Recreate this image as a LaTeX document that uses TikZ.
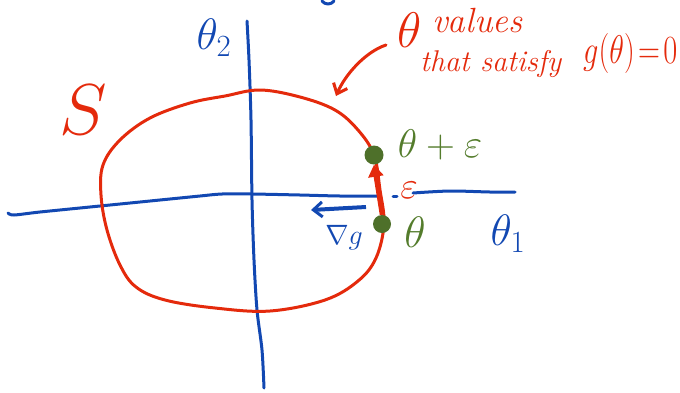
\RequirePackage{fix-cm}
\documentclass[tikz,border=0pt]{standalone}
\usepackage{graphicx}
\usetikzlibrary{arrows.meta}
\definecolor{sred}{RGB}{228,42,12}
\definecolor{sblue}{RGB}{18,72,178}
\definecolor{sgreen}{RGB}{84,124,44}
\definecolor{sdot}{RGB}{78,112,42}
\tikzset{
  axis/.style={draw=sblue, line width=3pt, line cap=round, line join=round},
  curve/.style={draw=sred, line width=3pt, line cap=round, line join=round},
  dotnode/.style={circle, fill=sdot, inner sep=0pt, minimum size=19pt},
  bluetxt/.style={text=sblue, inner sep=0pt},
  redtxt/.style={text=sred, inner sep=0pt},
  greentxt/.style={text=sgreen, inner sep=0pt},
}
\begin{document}
\begin{tikzpicture}[x=1pt,y=-1pt]
\useasboundingbox (0,0) rectangle (680,392);
% stray blue mark at top
\draw[axis] (322,1) .. controls (325,5) and (331,5) .. (334,1);
% vertical axis
\draw[axis] plot[smooth] coordinates {(247,21) (249,60) (251,120) (252,200) (254,260) (257,310) (262,350) (264,388)};
% horizontal axis
\draw[axis] plot[smooth] coordinates {(8,213) (14,215) (40,212) (100,206) (150,201) (200,196) (222,194) (252,194) (300,195) (340,196) (378,196)};
\draw[axis] (393,196) -- (397,196);
\draw[axis] plot[smooth] coordinates {(413,193) (450,191) (490,192) (515,192)};
% constraint set curve
\draw[curve] plot[smooth cycle, tension=0.6] coordinates {(260,90) (300,97) (335,110) (358,130) (374,155) (380,190) (384,224) (376,258) (358,281) (325,300) (270,311) (215,308) (165,300) (136,287) (120,265) (107,230) (101,195) (103,165) (120,140) (150,118) (190,103) (225,96)};
% points
\node[dotnode] (tp) at (374,155) {};
\node[dotnode, minimum size=18pt] (t) at (382,224) {};
% gradient arrow
\coordinate (ga) at (366,207);
\coordinate (gb) at (311,210);
\draw[draw=sblue, line width=4pt, -{Straight Barb[length=9pt,width=15pt,line width=3pt]}] (ga) -- (gb);
% epsilon arrow
\draw[draw=sred, line width=4.5pt, -{Triangle[length=12pt,width=15pt]}] (t.north) -- (tp.south);
% labels
\node[bluetxt, font=\fontsize{44}{44}\selectfont] (th2) at (214,38) {$\theta_{2}$};
\node[bluetxt, font=\fontsize{44}{44}\selectfont] (th1) at (508,234) {$\theta_{1}$};
\node[bluetxt, font=\fontsize{28}{28}\selectfont] (grad) at (344,238) {$\nabla g$};
\node[redtxt, font=\fontsize{72}{72}\selectfont] (S) at (83,110) {$S$};
\node[redtxt, font=\fontsize{38}{38}\selectfont] (eps) at (409,190) {$\varepsilon$};
\node[greentxt, font=\fontsize{40}{40}\selectfont] (ltp) at (440,145) {$\theta + \varepsilon$};
\node[greentxt, font=\fontsize{44}{44}\selectfont] (lt) at (415,232) {$\theta$};
% annotation
\node[redtxt, font=\fontsize{50}{50}\selectfont] (ath) at (410,30) {$\theta$};
\node[redtxt, font=\fontsize{35}{35}\selectfont\itshape, anchor=west] (avals) at (432,21) {values};
\node[redtxt, font=\fontsize{30}{30}\selectfont\itshape, anchor=west] (asat) at (420,64) {that satisfy};
\node[redtxt, font=\fontsize{40}{40}\selectfont, anchor=west] (ag) at (583,53) {\scalebox{0.76}[1]{$g(\theta)\!=\!0$}};
\coordinate (aa) at (386,45);
\coordinate (ab) at (336,96);
\draw[curve, -{Straight Barb[length=9pt,width=15pt,line width=3pt]}] (aa) .. controls (365,52) and (345,75) .. (ab);
\end{tikzpicture}
\end{document}
